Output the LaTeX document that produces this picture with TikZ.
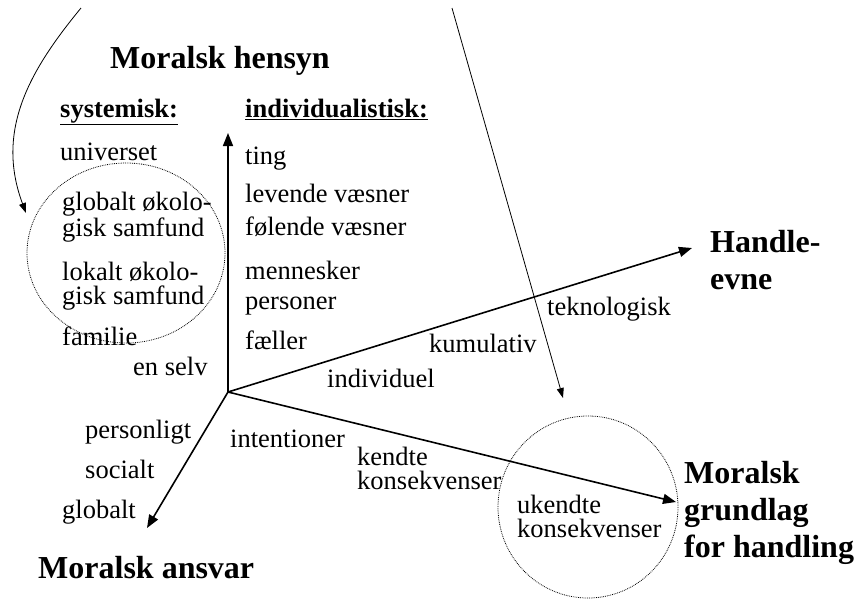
\documentclass[tikz,border=0pt]{standalone}
\usepackage{fontspec}
\setmainfont{Liberation Serif}
\usetikzlibrary{arrows.meta}

\begin{document}
\begin{tikzpicture}
    [x=1pt,y=-1pt,every node/.style={inner sep=0pt,anchor=base west,font=\fontsize{26.5}{24}\selectfont},
     head/.style={font=\fontsize{32}{37}\selectfont\bfseries},
     sub/.style={font=\fontsize{26.5}{24}\selectfont\bfseries},
     axis/.style={line width=1.6pt,-{Triangle[length=13pt,width=10pt]}},
     pointer/.style={line width=0.8pt,-{Triangle[length=10pt,width=7pt]}},
     ring/.style={densely dotted,line width=0.8pt}]
    \useasboundingbox (0, 0) rectangle (858, 600);

    % akser
    \coordinate (o) at (228, 392);
    \coordinate (hensyn-tip) at (228, 133);
    \coordinate (ansvar-tip) at (147, 528);
    \coordinate (evne-tip) at (692, 248);
    \coordinate (grundlag-tip) at (676, 502);

    \node[head] (hensyn) at (110, 68) {Moralsk hensyn};
    \node[head] (ansvar) at (38, 578) {Moralsk ansvar};
    \node[head,anchor=west,align=left] (evne) at (710, 260) {Handle-\\evne};
    \node[head,anchor=west,align=left] (grundlag) at (684, 513) {Moralsk\\grundlag\\for handling};

    % systemisk
    \node[sub] (sys) at (60, 117) {\underline{systemisk:}};
    \node (s0) at (60, 160) {universet};
    \node[anchor=west,align=left] (s1) at (62, 217) {globalt økolo-\\gisk samfund};
    \node[anchor=west,align=left] (s2) at (62, 286) {lokalt økolo-\\gisk samfund};
    \node (s3) at (62, 345) {familie};
    \node (s4) at (133, 375) {en selv};

    % individualistisk
    \node[sub] (ind) at (245, 117) {\underline{individualistisk:}};
    \node (i0) at (245, 164) {ting};
    \node (i1) at (245, 202) {levende væsner};
    \node (i2) at (245, 235) {følende væsner};
    \node (i3) at (245, 279) {mennesker};
    \node (i4) at (245, 309) {personer};
    \node (i5) at (245, 349) {fæller};

    % ansvar
    \node (a0) at (85, 438) {personligt};
    \node (a1) at (85, 478) {socialt};
    \node (a2) at (62, 518) {globalt};

    % handleevne
    \node (e0) at (327, 387) {individuel};
    \node (e1) at (429, 352) {kumulativ};
    \node (e2) at (547, 315) {teknologisk};

    % grundlag
    \node (g0) at (230, 447) {intentioner};
    \node[anchor=west,align=left] (g1) at (357, 468) {kendte\\konsekvenser};
    \node[anchor=west,align=left] (g2) at (517, 516) {ukendte\\konsekvenser};

    \foreach \to in {hensyn-tip, ansvar-tip, evne-tip, grundlag-tip}
    \draw[axis] (o) -- (\to);

    \draw[ring] (126, 253) ellipse [x radius=99, y radius=90];
    \draw[ring] (588, 507) ellipse [x radius=90, y radius=91];

    \coordinate (p1-start) at (81, 8);
    \coordinate (p1-end) at (26, 213);
    \coordinate (p2-start) at (452, 8);
    \coordinate (p2-end) at (563, 398);
    \draw[pointer] (p1-start) .. controls (30, 70) and (-5, 130) .. (p1-end);
    \draw[pointer] (p2-start) -- (p2-end);
\end{tikzpicture}
\end{document}
